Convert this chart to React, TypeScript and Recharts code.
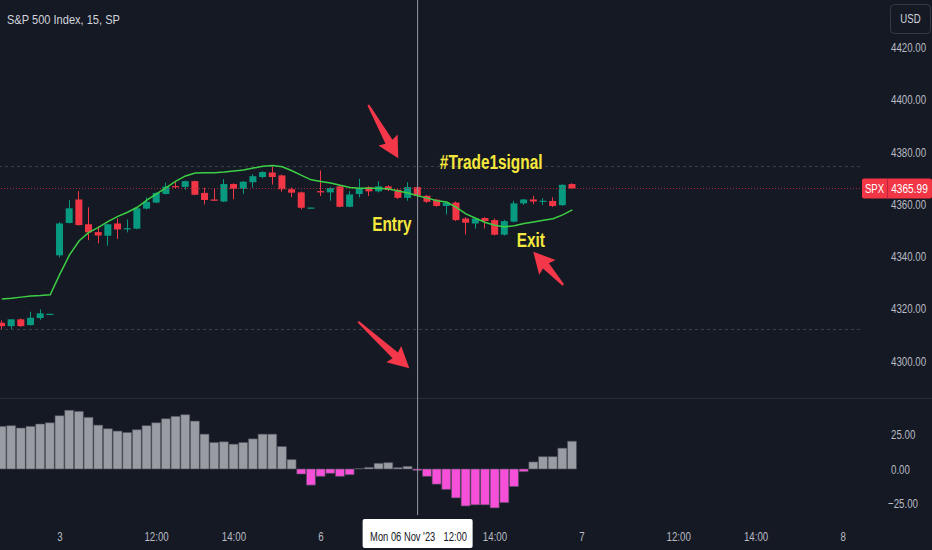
import React from 'react';
import { ComposedChart, Bar, Line, XAxis, YAxis, ReferenceLine, ReferenceDot, Cell } from 'recharts';

const BG = '#151924';
const UP = '#089981';
const DOWN = '#f23645';
const MA_COLOR = '#3ccf45';
const OSC_UP = '#9a9ca3';
const OSC_DOWN = '#f64fd8';
const AXIS_TEXT = '#b8bbc3';
const NOTE_COLOR = '#f5e83c';
const ARROW_COLOR = '#f5374a';
const FONT = '"Liberation Sans", Arial, sans-serif';

// ---- data (15-minute candles, index = bar number) ----
const openP = [4314.6, 4313.3, 4315.9, 4313.7, 4316.4, 4317.8, 4340.4, 4352.8, 4361.8, 4352.3,
  4349.3, 4347.9, 4352.6, 4350.6, 4350.6, 4358.3, 4360.6, 4363.9, 4366.9, 4366.6,
  4368.8, 4364.3, 4361.8, 4361.0, 4367.7, 4365.9, 4368.4, 4370.4, 4372.1, 4371.0,
  4365.7, 4364.5, 4358.3, 4365.0, 4364.5, 4366.8, 4359.0, 4363.9, 4366.5, 4364.9,
  4366.8, 4365.5, 4362.4, 4366.5, 4363.2, 4361.7, 4359.3, 4360.6, 4354.5, 4352.6,
  4354.7, 4353.9, 4348.3, 4353.3, 4360.3, 4361.8, 4361.1, 4361.2, 4359.6, 4367.7];
const highP = [4315.5, 4316.0, 4316.2, 4318.8, 4319.7, 4318.1, 4353.1, 4361.5, 4365.0, 4358.8,
  4351.6, 4352.5, 4354.5, 4354.1, 4358.6, 4362.6, 4364.5, 4368.2, 4368.8, 4369.0,
  4369.0, 4366.3, 4365.8, 4369.6, 4368.0, 4368.8, 4371.5, 4372.6, 4374.4, 4371.3,
  4366.3, 4364.8, 4358.8, 4372.9, 4366.5, 4367.0, 4365.0, 4369.7, 4366.8, 4368.8,
  4367.2, 4366.0, 4368.4, 4367.0, 4363.5, 4362.0, 4361.0, 4361.0, 4355.0, 4355.0,
  4355.0, 4354.5, 4354.0, 4361.3, 4362.0, 4363.2, 4362.3, 4362.6, 4367.6, 4368.0];
const lowP = [4312.0, 4312.0, 4313.0, 4313.5, 4315.7, 4317.7, 4339.6, 4352.6, 4351.8, 4346.2,
  4345.0, 4344.1, 4346.7, 4349.2, 4350.4, 4358.0, 4360.4, 4363.7, 4366.2, 4365.5,
  4363.4, 4359.9, 4361.2, 4360.8, 4361.9, 4363.9, 4366.3, 4369.9, 4367.5, 4364.8,
  4362.7, 4358.0, 4358.2, 4363.1, 4361.3, 4358.8, 4358.8, 4362.6, 4363.1, 4364.5,
  4365.0, 4362.0, 4361.3, 4362.8, 4360.5, 4359.0, 4356.1, 4353.5, 4348.4, 4350.6,
  4350.7, 4348.0, 4348.0, 4353.0, 4359.7, 4360.0, 4359.7, 4358.9, 4359.4, 4365.8];
const closeP = [4313.3, 4315.9, 4313.3, 4316.5, 4318.2, 4318.0, 4352.6, 4358.4, 4352.0, 4349.2,
  4348.0, 4352.3, 4350.3, 4350.8, 4358.4, 4360.9, 4364.3, 4366.7, 4366.5, 4368.8,
  4363.6, 4361.6, 4361.3, 4367.7, 4365.9, 4368.6, 4370.7, 4372.3, 4370.4, 4365.7,
  4364.4, 4358.6, 4358.7, 4364.5, 4366.2, 4359.0, 4363.7, 4366.2, 4364.9, 4366.8,
  4365.4, 4362.4, 4366.5, 4363.2, 4360.9, 4359.3, 4360.6, 4353.9, 4352.9, 4354.5,
  4353.5, 4348.3, 4353.5, 4360.3, 4361.8, 4361.0, 4361.3, 4359.3, 4367.4, 4365.99];
const maLine = [4323.7, 4324.0, 4324.4, 4324.8, 4325.0, 4325.3, 4333.2, 4340.6, 4346.0, 4349.2,
  4351.1, 4353.4, 4355.3, 4356.9, 4358.8, 4361.5, 4363.9, 4366.3, 4368.8, 4370.8,
  4371.9, 4372.0, 4372.0, 4372.3, 4372.7, 4373.1, 4373.8, 4374.5, 4374.8, 4374.3,
  4372.8, 4371.0, 4369.3, 4368.7, 4368.1, 4367.2, 4366.4, 4366.1, 4366.1, 4366.1,
  4365.8, 4365.0, 4364.3, 4363.2, 4362.3, 4361.3, 4360.8, 4358.8, 4356.3, 4354.6,
  4353.0, 4351.9, 4351.3, 4351.7, 4352.6, 4353.2, 4353.8, 4354.4, 4355.9, 4357.8];
const histVals = [30.7, 31.2, 29.5, 30.7, 32.4, 33.3, 38.4, 42.3, 41.5, 37.2,
  31.6, 29.0, 27.3, 26.3, 28.3, 31.2, 33.3, 36.2, 37.9, 39.1,
  34.5, 25.1, 19.1, 19.6, 17.9, 19.1, 21.7, 25.1, 25.1, 16.2,
  6.8, -3.6, -11.6, -5.3, -3.1, -5.3, -4.1, 0.3, 1.2, 4.1,
  4.6, 1.0, 1.9, -1.0, -5.3, -10.9, -14.7, -20.8, -26.6, -25.8,
  -25.8, -28.0, -24.2, -12.6, -1.9, 5.1, 8.9, 8.9, 15.0, 20.0];

const timeTicks = [6, 16, 24, 33, 43, 51, 60, 70, 78, 87];
const timeLabels = ['3', '12:00', '14:00', '6', '12:00', '14:00', '7', '12:00', '14:00', '8'];
const priceTicks = [4300, 4320, 4340, 4360, 4380, 4400, 4420];
const oscTicks = [-25, 0, 25];
const crosshairIndex = 43;
const crosshairDate = "Mon 06 Nov '23";
const crosshairTime = '12:00';
const lastPrice = 4365.99;
const symbol = 'SPX';
const title = 'S&P 500 Index, 15, SP';
const currency = 'USD';

const noteTexts = ['#Trade1signal', 'Entry', 'Exit'];
const noteIdx = [45.3, 38.3, 53.25];
const notePrice = [4373.4, 4349.7, 4343.7];
const arrowFromIdx = [37.9, 36.86, 58.06];
const arrowFromPrice = [4398.0, 4315.0, 4329.05];
const arrowToIdx = [41.0, 42.14, 54.96];
const arrowToPrice = [4377.55, 4297.2, 4341.8];

const X_DOMAIN: [number, number] = [-0.19, 88.75];
const PRICE_DOMAIN: [number, number] = [4285.78, 4438.16];
const OSC_DOMAIN: [number, number] = [-33.1, 51.1];

const candles = openP.map((o, i) => ({ i, o, h: highP[i], l: lowP[i], c: closeP[i], ma: maLine[i] }));
const osc = histVals.map((v, i) => ({ i, v }));
const rangeHigh = Math.max(...highP);
const rangeLow = Math.min(...lowP);

function NText(props: any) {
  const { x, y, size = 13, sx = 0.74, anchor = 'start', weight = 400, fill = AXIS_TEXT, dy = '0.35em', children } = props;
  return (
    <g transform={`translate(${x},${y}) scale(${sx},1)`}>
      <text x={0} y={0} dy={dy} fontSize={size} fontWeight={weight} fill={fill} textAnchor={anchor} fontFamily={FONT}>
        {children}
      </text>
    </g>
  );
}

const Candle = (props: any) => {
  const { x, y, width, height, payload } = props;
  if (!payload || x == null) return null;
  const { o, h, l, c } = payload;
  const ratio = h !== l ? height / (h - l) : 0;
  const yOf = (v: number) => y + (h - v) * ratio;
  const color = c >= o ? UP : DOWN;
  const cx = Math.floor(x + width / 2) + 0.5;
  const top = yOf(Math.max(o, c));
  const bot = yOf(Math.min(o, c));
  return (
    <g>
      <line x1={cx} x2={cx} y1={y} y2={y + height} stroke={color} strokeWidth={1} />
      <rect x={x} y={top} width={width} height={Math.max(1.2, bot - top)} fill={color} />
    </g>
  );
};

const ArrowShape = (props: any) => {
  const { x1, y1, x2, y2 } = props;
  const dx = x2 - x1, dy = y2 - y1;
  const L = Math.hypot(dx, dy) || 1;
  const ux = dx / L, uy = dy / L;
  const nx = -uy, ny = ux;
  const headL = 19, headW = 11, shaftW = 4, tailW = 1;
  const bx = x2 - ux * headL, by = y2 - uy * headL;
  const pts = [
    [x1 + nx * tailW, y1 + ny * tailW],
    [bx + nx * shaftW, by + ny * shaftW],
    [bx + nx * headW - ux * 2, by + ny * headW - uy * 2],
    [x2, y2],
    [bx - nx * headW - ux * 2, by - ny * headW - uy * 2],
    [bx - nx * shaftW, by - ny * shaftW],
    [x1 - nx * tailW, y1 - ny * tailW],
  ];
  return <polygon points={pts.map((p) => `${p[0]},${p[1]}`).join(' ')} fill={ARROW_COLOR} />;
};

const PriceTick = (props: any) => {
  const { y, payload } = props;
  return <NText x={891} y={y} size={13.5} sx={0.72}>{Number(payload.value).toFixed(2)}</NText>;
};

const OscTick = (props: any) => {
  const { y, payload } = props;
  const v = Number(payload.value);
  const s = (v < 0 ? '\u2212' : '') + Math.abs(v).toFixed(2);
  return <NText x={v < 0 ? 888 : 891} y={y} size={13.5} sx={0.72}>{s}</NText>;
};

const TimeTick = (props: any) => {
  const { x, payload } = props;
  const v = payload.value;
  const idx = timeTicks.indexOf(v);
  const label = idx >= 0 ? timeLabels[idx] : '';
  if (v === crosshairIndex) {
    return (
      <g>
        <rect x={x - 55} y={121} width={110} height={29} rx={2} fill="#ffffff" />
        <NText x={x - 47.5} y={138} size={13} sx={0.72} fill="#131722">{crosshairDate}</NText>
        <NText x={x + 26} y={138} size={13} sx={0.72} fill="#131722">{crosshairTime}</NText>
      </g>
    );
  }
  return <NText x={x} y={138} size={13.5} sx={0.72} anchor="middle">{label}</NText>;
};

const PriceTag = (props: any) => {
  const { cx, cy } = props;
  const x0 = cx + 2;
  return (
    <g>
      <rect x={x0} y={cy - 10} width={70} height={20} rx={2} fill={DOWN} />
      <line x1={x0 + 25.5} x2={x0 + 25.5} y1={cy - 10} y2={cy + 10} stroke="#b8283a" />
      <NText x={x0 + 12.5} y={cy} size={12} sx={0.8} anchor="middle" fill="#ffffff">{symbol}</NText>
      <NText x={x0 + 47.5} y={cy} size={13} sx={0.78} anchor="middle" fill="#ffffff">{lastPrice.toFixed(2)}</NText>
    </g>
  );
};

export default function App() {
  return (
    <div style={{ position: 'absolute', left: 0, top: 0, width: 932, height: 550, background: BG, overflow: 'hidden' }}>
      <div style={{ position: 'absolute', left: 0, top: 0 }}>
        <ComposedChart width={932} height={398} data={candles} margin={{ top: 0, right: 0, bottom: 0, left: 0 }}>
          <XAxis type="number" dataKey="i" domain={X_DOMAIN} allowDataOverflow hide />
          <YAxis
            orientation="right"
            width={72}
            domain={PRICE_DOMAIN}
            allowDataOverflow
            ticks={priceTicks}
            interval={0}
            axisLine={false}
            tickLine={false}
            tick={(p: any) => <PriceTick {...p} />}
          />
          <ReferenceLine y={rangeHigh} stroke="#3d414c" strokeDasharray="3 3" />
          <ReferenceLine y={rangeLow} stroke="#3d414c" strokeDasharray="3 3" />
          <ReferenceLine y={lastPrice} stroke="#a32b3a" strokeDasharray="1 2" />
          <ReferenceLine x={crosshairIndex} stroke="#9598a1" />
          <Bar
            dataKey={(d: any) => [d.l, d.h]}
            barSize={7}
            isAnimationActive={false}
            shape={(p: any) => <Candle {...p} />}
          />
          <Line
            dataKey="ma"
            type="linear"
            stroke={MA_COLOR}
            strokeWidth={1.5}
            dot={false}
            activeDot={false}
            isAnimationActive={false}
          />
          {arrowFromIdx.map((fi, k) => (
            <ReferenceLine
              key={'a' + k}
              segment={[{ x: fi, y: arrowFromPrice[k] }, { x: arrowToIdx[k], y: arrowToPrice[k] }]}
              shape={(p: any) => <ArrowShape {...p} />}
            />
          ))}
          {noteTexts.map((t, k) => (
            <ReferenceDot
              key={'n' + k}
              x={noteIdx[k]}
              y={notePrice[k]}
              r={0}
              shape={(p: any) => (
                <NText x={p.cx} y={p.cy} size={20} sx={0.77} weight={700} fill={NOTE_COLOR} dy="0">
                  {t}
                </NText>
              )}
            />
          ))}
          <ReferenceDot
            x={X_DOMAIN[1] - 0.001}
            y={lastPrice}
            r={0}
            shape={(p: any) => <PriceTag {...p} />}
          />
        </ComposedChart>
      </div>
      <div style={{ position: 'absolute', left: 0, top: 398, width: 932, height: 1, background: '#2a2e39' }} />
      <div style={{ position: 'absolute', left: 0, top: 398 }}>
        <ComposedChart width={932} height={152} data={osc} margin={{ top: 0, right: 0, bottom: 0, left: 0 }}>
          <XAxis
            type="number"
            dataKey="i"
            domain={X_DOMAIN}
            allowDataOverflow
            ticks={timeTicks}
            interval={0}
            height={35}
            axisLine={false}
            tickLine={false}
            tick={(p: any) => <TimeTick {...p} />}
          />
          <YAxis
            orientation="right"
            width={72}
            domain={OSC_DOMAIN}
            allowDataOverflow
            ticks={oscTicks}
            interval={0}
            axisLine={false}
            tickLine={false}
            tick={(p: any) => <OscTick {...p} />}
          />
          <ReferenceLine x={crosshairIndex} stroke="#9598a1" />
          <Bar dataKey="v" barSize={9} isAnimationActive={false} stroke="#4a4d57" strokeWidth={0.6}>
            {osc.map((d, k) => (
              <Cell key={k} fill={d.v >= 0 ? OSC_UP : OSC_DOWN} />
            ))}
          </Bar>
        </ComposedChart>
      </div>
      <svg width={932} height={40} style={{ position: 'absolute', left: 0, top: 0, pointerEvents: 'none' }}>
        <NText x={7} y={19} size={13.5} sx={0.82} fill="#d1d4dc">{title}</NText>
        <rect x={890.5} y={4.5} width={40} height={29} rx={4} fill="none" stroke="#363a45" />
        <NText x={910.5} y={19} size={12} sx={0.8} anchor="middle" fill="#d1d4dc">{currency}</NText>
      </svg>
    </div>
  );
}
